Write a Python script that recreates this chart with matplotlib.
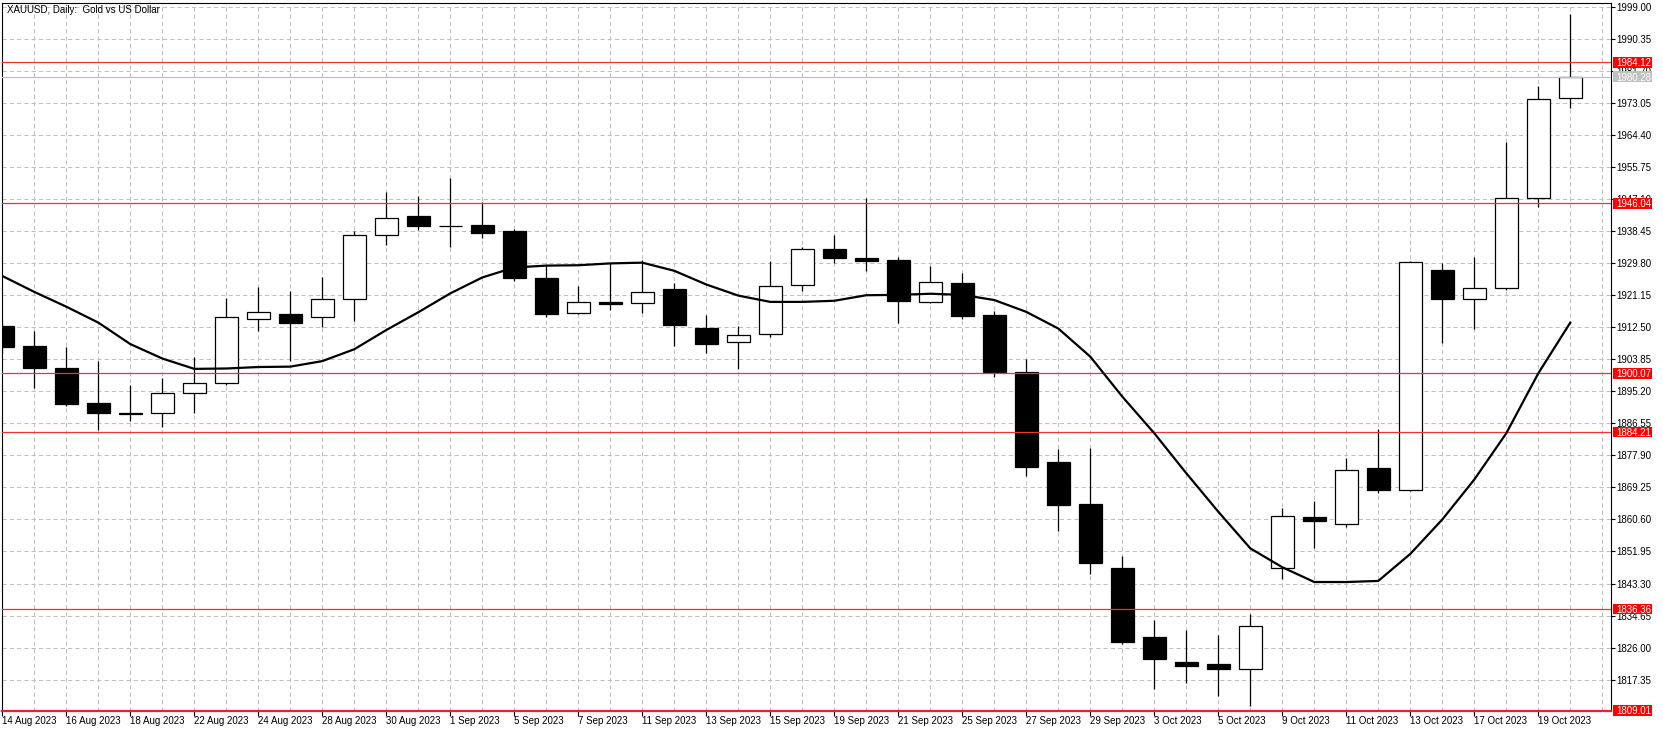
import numpy as np
import pandas as pd
import matplotlib
matplotlib.use("Agg")
import matplotlib.pyplot as plt
from matplotlib.patches import Rectangle

plt.rcParams['font.family'] = ['Liberation Sans', 'DejaVu Sans']
plt.rcParams['font.size'] = 7

# daily bars, 14 Aug - 20 Oct 2023
dates = pd.bdate_range('2023-08-14', '2023-10-20')

opens = [1912.9, 1907.5, 1901.4, 1892.0, 1889.5, 1889.3, 1894.7, 1897.4, 1914.9, 1916.1,
         1915.2, 1920.1, 1937.4, 1942.6, 1939.8, 1940.2, 1938.5, 1925.8, 1916.5, 1919.3,
         1919.2, 1922.9, 1912.3, 1908.5, 1910.6, 1923.9, 1933.6, 1931.2, 1930.7, 1919.5,
         1924.5, 1915.8, 1900.4, 1876.1, 1864.9, 1847.5, 1828.8, 1822.0, 1821.5, 1820.1,
         1847.6, 1861.2, 1859.5, 1874.4, 1868.5, 1928.0, 1920.1, 1923.1, 1947.4, 1974.4]
highs = [1914.5, 1911.5, 1907.1, 1903.5, 1896.9, 1898.9, 1904.4, 1920.5, 1923.5, 1922.3,
         1926.1, 1938.5, 1949.1, 1948.1, 1952.9, 1946.5, 1939.1, 1929.1, 1923.7, 1929.8,
         1930.7, 1924.4, 1915.8, 1912.8, 1930.5, 1934.2, 1937.5, 1947.4, 1931.4, 1929.1,
         1927.2, 1916.9, 1903.9, 1879.6, 1879.9, 1850.8, 1833.4, 1830.7, 1829.4, 1835.0,
         1863.8, 1865.6, 1877.1, 1885.0, 1930.5, 1929.8, 1931.6, 1962.6, 1977.7, 1997.2]
lows = [1905.5, 1896.1, 1891.2, 1884.9, 1887.2, 1885.5, 1889.3, 1897.0, 1911.6, 1903.4,
        1912.7, 1914.2, 1934.8, 1938.8, 1934.3, 1936.6, 1925.1, 1915.2, 1916.0, 1917.2,
        1916.5, 1907.5, 1905.5, 1901.3, 1910.0, 1922.4, 1929.8, 1927.8, 1913.8, 1919.2,
        1914.9, 1899.0, 1872.3, 1857.5, 1846.0, 1826.9, 1814.9, 1816.5, 1812.9, 1810.2,
        1844.5, 1852.9, 1858.6, 1867.8, 1868.3, 1908.2, 1912.1, 1922.5, 1945.1, 1971.9]
closes = [1907.3, 1901.6, 1891.8, 1889.3, 1889.1, 1894.7, 1897.4, 1915.2, 1916.6, 1913.8,
          1920.2, 1937.4, 1942.2, 1940.0, 1939.9, 1938.1, 1925.9, 1916.2, 1919.5, 1918.9,
          1922.2, 1913.2, 1908.1, 1910.4, 1923.6, 1933.6, 1931.2, 1930.4, 1919.7, 1924.9,
          1915.6, 1900.5, 1874.8, 1864.6, 1848.9, 1827.5, 1822.9, 1821.1, 1820.2, 1831.9,
          1861.5, 1860.2, 1874.1, 1868.7, 1930.1, 1920.1, 1923.1, 1947.6, 1974.1, 1980.28]

# moving average line
ma = [1926.4, 1922.1, 1918.1, 1913.8, 1908.0, 1904.1, 1901.3, 1901.4, 1901.8, 1901.9,
      1903.4, 1906.6, 1911.8, 1916.6, 1921.7, 1926.0, 1928.7, 1929.2, 1929.3, 1929.8,
      1930.0, 1927.8, 1924.1, 1921.1, 1919.4, 1919.4, 1919.7, 1921.2, 1921.3, 1921.6,
      1921.3, 1919.9, 1916.7, 1912.2, 1904.6, 1893.8, 1883.9, 1873.1, 1862.7, 1852.8,
      1847.7, 1843.7, 1843.7, 1844.0, 1851.3, 1860.6, 1871.4, 1883.9, 1900.1, 1913.8]

levels = [1984.12, 1946.04, 1900.07, 1884.21, 1836.36, 1809.01]
current = 1980.28

price_ticks = [1817.35, 1826.00, 1834.65, 1843.30, 1851.95, 1860.60, 1869.25, 1877.90,
               1886.55, 1895.20, 1903.85, 1912.50, 1921.15, 1929.80, 1938.45, 1947.10,
               1955.75, 1964.40, 1973.05, 1981.70, 1990.35, 1999.00]

W, H = 1663, 732
fig = plt.figure(figsize=(W / 100, H / 100), dpi=100)
fig.patch.set_facecolor('white')
ax = fig.add_axes([2.3 / W, (H - 711) / H, (1610.7 - 2.3) / W, (711 - 2.5) / H])

x = np.arange(len(dates))
o = np.array(opens)
c = np.array(closes)

# wicks then bodies
ax.vlines(x, lows, highs, color='black', linewidth=0.9, zorder=2.6)
bottoms = np.minimum(o, c)
heights = np.maximum(np.abs(c - o), 0.15)
faces = ['white' if cc > oo else 'black' for oo, cc in zip(o, c)]
ax.bar(x, heights, bottom=bottoms, width=0.72, color=faces, edgecolor='black',
       linewidth=0.9, zorder=2.8)

ax.plot(x, ma, color='black', linewidth=1.6, zorder=4)

for lv in levels[:-1]:
    ax.axhline(lv, color='#ee3333', linewidth=0.9, zorder=3.5)
ax.axhline(current, color='#c0c0c0', linewidth=0.9, zorder=3.4)

ax.set_xlim(0, (1610.7 - 2.3) / 32)
ax.set_ylim(1808.85, 2000.3)

# axes / ticks
ax.set_xticks(x[::2])
ax.set_xticklabels([f"{d.day} {d.strftime('%b %Y')}" for d in dates[::2]])
plt.setp(ax.get_xticklabels(), ha='left')
ax.set_xticks(np.arange(1, 51), minor=True)
ax.tick_params(axis='x', which='major', length=3.6, width=0.8, pad=0.3, labelsize=7)
ax.tick_params(axis='x', which='minor', length=0)

ax.yaxis.tick_right()
ax.set_yticks(price_ticks)
ax.set_yticklabels([f'{v:.2f}' for v in price_ticks])
ax.tick_params(axis='y', length=3, width=0.8, pad=1.4, labelsize=7)

ax.grid(axis='x', which='both', color='#c0c0c0', linestyle=(0, (4, 3)), linewidth=0.75, zorder=0)
ax.grid(axis='y', which='major', color='#c0c0c0', linestyle=(0, (4, 3)), linewidth=0.75, zorder=0)
ax.set_axisbelow(True)

for s in ['left', 'top', 'right']:
    ax.spines[s].set_color('black')
    ax.spines[s].set_linewidth(0.8)
ax.spines['bottom'].set_color('#ee2222')
ax.spines['bottom'].set_linewidth(1.6)

# price labels on the right scale
trans = ax.get_yaxis_transform()
ax_w = 1610.7 - 2.3
box_x = (1613 - 2.3) / ax_w
box_w = 39 / ax_w
box_h = 10.5 / 3.70
txt_x = (1616.5 - 2.3) / ax_w
for lv, col in [(v, '#ff0000') for v in levels] + [(current, '#c0c0c0')]:
    ax.add_patch(Rectangle((box_x, lv - box_h / 2), box_w, box_h, transform=trans,
                           facecolor=col, edgecolor='none', clip_on=False, zorder=10))
    ax.text(txt_x, lv, f'{lv:.2f}', transform=trans, color='white', fontsize=7,
            ha='left', va='center_baseline', clip_on=False, zorder=11)

fig.text(7 / W, 1 - 5 / H, 'XAUUSD, Daily:  Gold vs US Dollar', ha='left', va='top', fontsize=7)

fig.savefig('out.png', dpi=100)
